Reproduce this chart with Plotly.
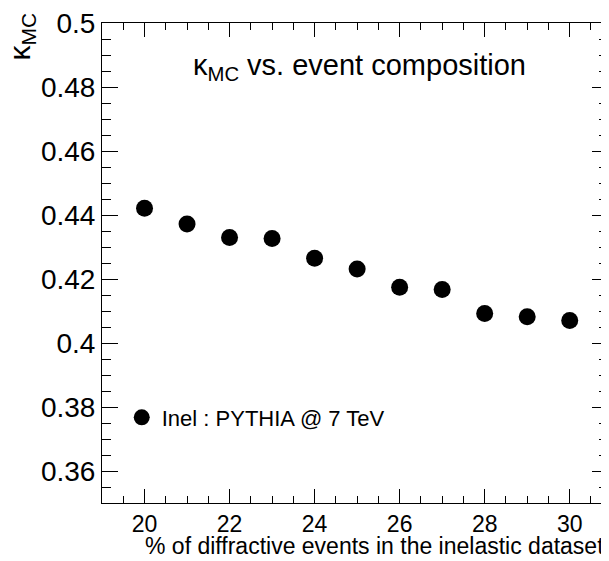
import plotly.graph_objects as go

# % of diffractive events in the inelastic dataset
diff_frac = [20, 21, 22, 23, 24, 25, 26, 27, 28, 29, 30]
# kappa_MC values
kappa_mc = [0.4422, 0.4373, 0.4331, 0.4328, 0.4266, 0.4232, 0.4175, 0.4168, 0.4093, 0.4083, 0.4071]

FONT = "Liberation Sans"

fig = go.Figure()

fig.add_trace(go.Scatter(
    x=diff_frac, y=kappa_mc,
    mode='markers',
    marker=dict(color='black', size=17, symbol='circle'),
    name='Inel : PYTHIA @ 7 TeV'
))

axis_common = dict(
    showgrid=False, zeroline=False,
    showline=True, linecolor='black', linewidth=1,
    mirror='ticks', ticks='inside', tickcolor='black',
    ticklabeloverflow='allow',
)

fig.update_xaxes(
    range=[19, 30.9], dtick=2, tick0=20, ticklen=14,
    minor=dict(dtick=0.5, ticklen=7, ticks='inside', tickcolor='black'),
    tickfont=dict(family=FONT, size=23, color='black'),
    **axis_common
)
fig.update_yaxes(
    range=[0.35, 0.5002], dtick=0.02, tick0=0.36, ticklen=16,
    minor=dict(dtick=0.005, ticklen=9, ticks='inside', tickcolor='black'),
    tickfont=dict(family=FONT, size=28, color='black'),
    tickformat='~g',
    **axis_common
)

# title and axis titles
fig.add_annotation(text='κ<sub>MC</sub> vs. event composition', xref='paper', yref='paper',
                   x=0.509, y=0.908, xanchor='center', yanchor='middle', showarrow=False,
                   font=dict(family=FONT, size=29, color='black'))
fig.add_annotation(text='% of diffractive events in the inelastic dataset', xref='paper', yref='paper',
                   x=0.996, y=-0.09, xanchor='right', yanchor='middle', showarrow=False,
                   font=dict(family=FONT, size=23, color='black'))
fig.add_annotation(text='κ<sub>MC</sub>', xref='paper', yref='paper', textangle=-90,
                   x=-0.16, y=0.972, xanchor='center', yanchor='middle', showarrow=False,
                   font=dict(family=FONT, size=30, color='black'))

# page body adds an 8px margin, so the figure is 8px smaller and margins shrink
fig.update_layout(
    width=601, height=553,
    margin=dict(l=94, r=0, t=5, b=58),
    paper_bgcolor='white', plot_bgcolor='white',
    showlegend=True,
    legend=dict(x=0.039, y=0.178, xanchor='left', yanchor='middle',
                bgcolor='rgba(0,0,0,0)', font=dict(family=FONT, size=22, color='black'),
                itemwidth=30),
)

fig.write_html("out.html")
